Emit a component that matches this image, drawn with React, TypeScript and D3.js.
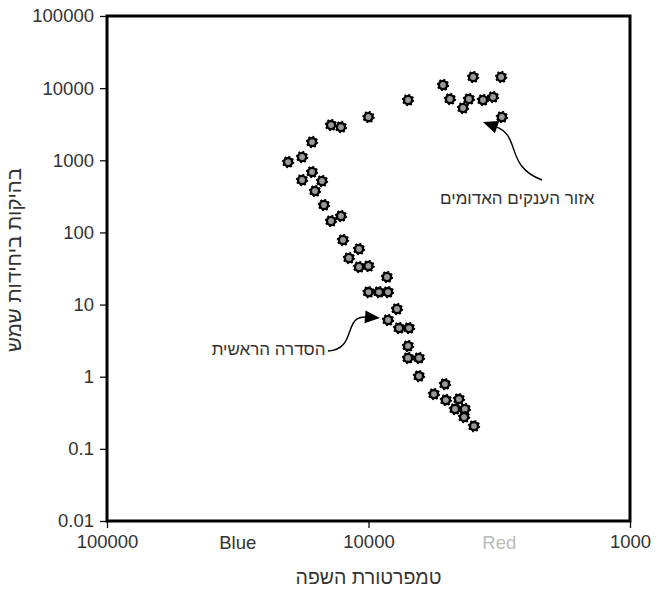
import React, { useEffect, useRef } from "react";
import * as d3 from "d3";

// star data: surface temperature (K) and luminosity (solar units)
const upperTemps = [20300, 17950, 16440, 16440, 17950, 15060, 16020, 14800, 13910, 12740, 13910, 12740, 10000];
const upperLums = [946, 1110, 1790, 689, 533, 516, 375, 240, 144, 169, 3080, 2890, 3980];

const mainTemps = [12520, 10870, 11880, 10870, 10000, 8500, 10000, 9120, 8420, 7780, 8420, 7640, 7000, 7060, 7060, 6410, 6410, 5100, 5620, 5060, 4510, 4670, 4280, 4310, 3950];
const mainLums = [78.5, 58.9, 44.2, 33.2, 34.3, 24.1, 14.9, 14.9, 14.9, 8.68, 6.11, 4.73, 4.73, 2.67, 1.82, 1.82, 1.02, 0.79, 0.575, 0.475, 0.49, 0.357, 0.357, 0.276, 0.207];

const giantTemps = [7060, 5190, 3980, 3110, 4880, 4130, 4350, 3650, 3340, 3090];
const giantLums = [6850, 11060, 14270, 14270, 7070, 7070, 5310, 6850, 7540, 3980];

const yTicks = [0.01, 0.1, 1, 10, 100, 1000, 10000, 100000];
const yTickLabels = ["0.01", "0.1", "1", "10", "100", "1000", "10000", "100000"];
const xTicks = [100000, 10000, 1000];
const xTickLabels = ["100000", "10000", "1000"];
const colorLabels = ["Blue", "Red"];
const colorTemps = [31623, 3162];

const xTitle = "טמפרטורת השפה";
const yTitle = "בהיקות ביחידות שמש";
const noteTexts = ["אזור הענקים האדומים", "הסדרה הראשית"];

const App = () => {
  const svgRef = useRef(null);

  useEffect(() => {
    const W = 669;
    const H = 595;
    const margin = { top: 16, right: 39, bottom: 74, left: 107 };

    const svg = d3.select(svgRef.current);
    svg.selectAll("*").remove();
    svg.attr("width", W).attr("height", H);

    const x = d3.scaleLog().domain([100000, 1000]).range([margin.left, W - margin.right]);
    const y = d3.scaleLog().domain([0.01, 100000]).range([H - margin.bottom, margin.top]);

    const font = "'Liberation Sans', Arial, Helvetica, sans-serif";
    const tickSize = 18.5;
    const ink = "#333";

    // y axis
    const yAxis = svg
      .append("g")
      .attr("transform", `translate(${margin.left},0)`)
      .call(
        d3
          .axisLeft(y)
          .tickValues(yTicks)
          .tickFormat((d, i) => yTickLabels[i])
          .tickSize(7)
          .tickPadding(6)
      );
    yAxis.select(".domain").remove();
    yAxis.selectAll("line").attr("stroke", "#111").attr("stroke-width", 1.3);
    yAxis.selectAll("text").attr("font-family", font).attr("font-size", tickSize).attr("fill", ink);

    // x axis
    const xAxis = svg
      .append("g")
      .attr("transform", `translate(0,${H - margin.bottom})`)
      .call(
        d3
          .axisBottom(x)
          .tickValues(xTicks)
          .tickFormat((d, i) => xTickLabels[i])
          .tickSize(7)
          .tickPadding(7)
      );
    xAxis.select(".domain").remove();
    xAxis.selectAll("line").attr("stroke", "#111").attr("stroke-width", 1.3);
    xAxis.selectAll("text").attr("font-family", font).attr("font-size", tickSize).attr("fill", ink);

    // Blue / Red labels between ticks
    svg
      .selectAll(".colorLabel")
      .data(colorLabels)
      .enter()
      .append("text")
      .attr("x", (d, i) => x(colorTemps[i]))
      .attr("y", H - margin.bottom + 28)
      .attr("text-anchor", "middle")
      .attr("font-family", font)
      .attr("font-size", tickSize)
      .attr("fill", (d, i) => (i === 0 ? ink : "#bbb"))
      .text((d) => d);

    // frame
    svg
      .append("rect")
      .attr("x", margin.left)
      .attr("y", margin.top)
      .attr("width", W - margin.left - margin.right)
      .attr("height", H - margin.top - margin.bottom)
      .attr("fill", "none")
      .attr("stroke", "#000")
      .attr("stroke-width", 3);

    // titles
    svg
      .append("text")
      .attr("x", (margin.left + W - margin.right) / 2)
      .attr("y", H - 11)
      .attr("text-anchor", "middle")
      .attr("font-family", font)
      .attr("font-size", 19.5)
      .attr("fill", ink)
      .text(xTitle);

    svg
      .append("text")
      .attr("transform", `translate(21,${260}) rotate(-90)`)
      .attr("text-anchor", "middle")
      .attr("font-family", font)
      .attr("font-size", 20.5)
      .attr("fill", ink)
      .text(yTitle);

    // stars
    const stars = [
      ...upperTemps.map((t, i) => ({ t, l: upperLums[i] })),
      ...mainTemps.map((t, i) => ({ t, l: mainLums[i] })),
      ...giantTemps.map((t, i) => ({ t, l: giantLums[i] })),
    ];

    const g = svg
      .selectAll(".star")
      .data(stars)
      .enter()
      .append("g")
      .attr("transform", (d) => `translate(${x(d.t)},${y(d.l)})`);

    g.append("circle")
      .attr("r", 5.4)
      .attr("fill", "none")
      .attr("stroke", "#000")
      .attr("stroke-width", 1.6)
      .attr("stroke-dasharray", "1.8 2.4");
    g.append("circle")
      .attr("r", 4.1)
      .attr("fill", "#9a9a9a")
      .attr("stroke", "#000")
      .attr("stroke-width", 2.4);

    // annotations
    const notes = [
      {
        text: noteTexts[0],
        start: [2170, 533],
        tip: [3650, 3400],
        c1: [-38, -14],
        c2: [-20, -44],
        textPos: [2700, 250],
        anchor: "middle",
      },
      {
        text: noteTexts[1],
        start: [14290, 2.27],
        tip: [9040, 6.5],
        c1: [30, -2],
        c2: [14, -36],
        textPos: [14600, 2.0],
        anchor: "end",
      },
    ];

    notes.forEach((n) => {
      const sx = x(n.start[0]);
      const sy = y(n.start[1]);
      const tx = x(n.tip[0]);
      const ty = y(n.tip[1]);
      const c1x = sx + n.c1[0];
      const c1y = sy + n.c1[1];
      const c2x = sx + n.c2[0];
      const c2y = sy + n.c2[1];
      // direction into tip from control 2
      const ang = Math.atan2(ty - c2y, tx - c2x);
      const headLen = 15;
      const bx = tx - headLen * Math.cos(ang);
      const by = ty - headLen * Math.sin(ang);
      const p = d3.path();
      p.moveTo(sx, sy);
      p.bezierCurveTo(c1x, c1y, c2x, c2y, bx + 2 * Math.cos(ang), by + 2 * Math.sin(ang));
      svg.append("path").attr("d", p.toString()).attr("fill", "none").attr("stroke", "#000").attr("stroke-width", 1.4);

      const hw = 6.5;
      const head = [
        [tx, ty],
        [bx + hw * Math.sin(ang), by - hw * Math.cos(ang)],
        [bx - hw * Math.sin(ang), by + hw * Math.cos(ang)],
      ];
      svg.append("path").attr("d", d3.line()(head) + "Z").attr("fill", "#000");

      svg
        .append("text")
        .attr("x", x(n.textPos[0]))
        .attr("y", y(n.textPos[1]))
        .attr("text-anchor", n.anchor)
        .attr("font-family", font)
        .attr("font-size", 17)
        .attr("fill", ink)
        .text(n.text);
    });
  }, []);

  return (
    <svg
      ref={svgRef}
      style={{ position: "absolute", left: 0, top: 0, display: "block", background: "#fff" }}
    ></svg>
  );
};

export default App;
